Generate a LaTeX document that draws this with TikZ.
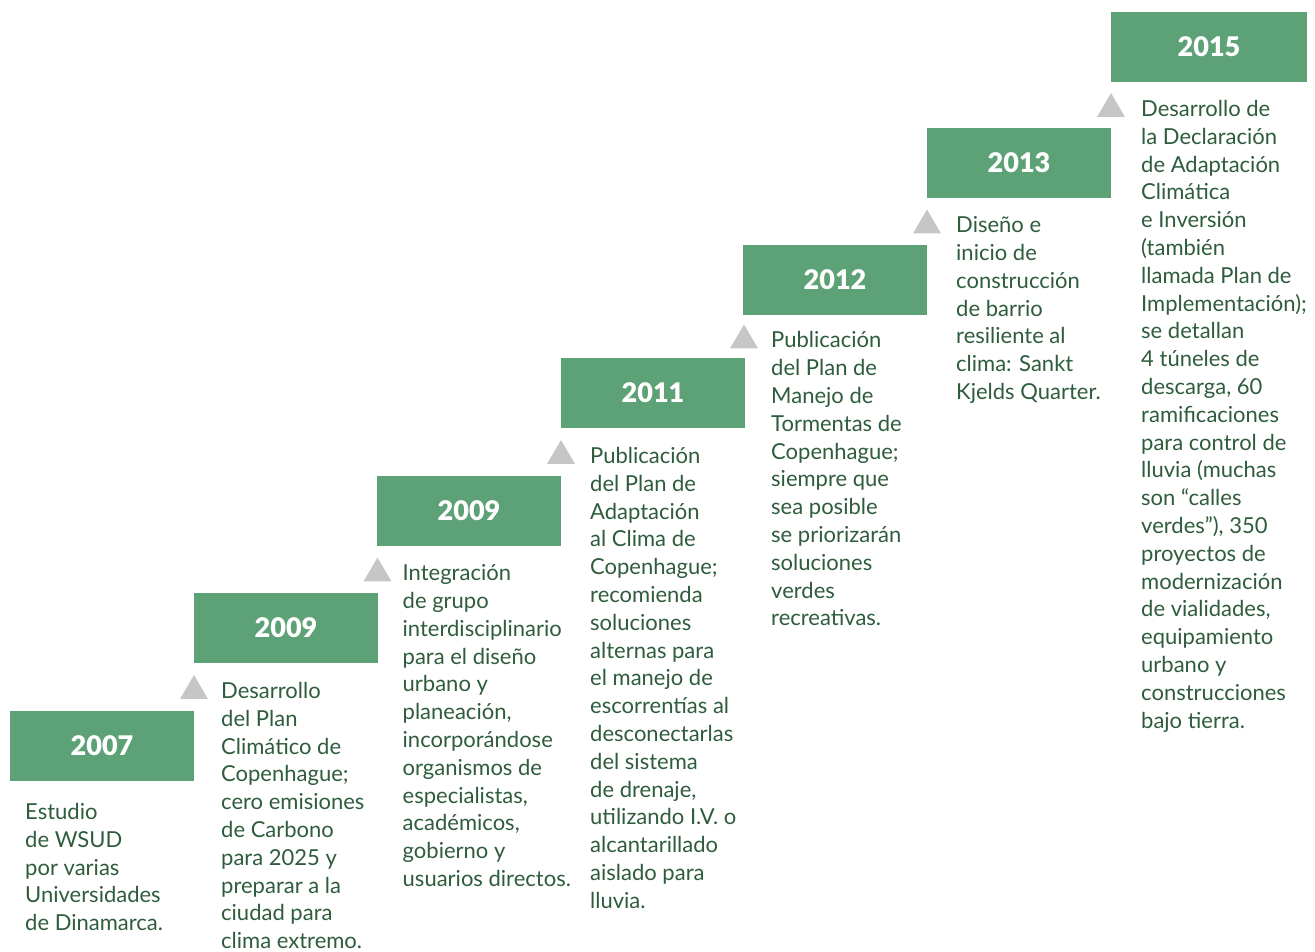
\documentclass[tikz,border=0pt]{standalone}
\usepackage{fontspec}
\setmainfont{Lato}
\newfontfamily\yearfont{Lato}[UprightFont=* Black]
\usepackage{xcolor}
\usetikzlibrary{calc,positioning}
\definecolor{stepgreen}{HTML}{5DA176}
\definecolor{notegreen}{HTML}{2E5C3C}
\definecolor{pointergray}{HTML}{C6C6C6}

\begin{document}
\begin{tikzpicture}[
  x=1pt, y=1pt,
  node distance=47pt and 0pt,
  yearbox/.style={fill=stepgreen, text=white, inner sep=0pt, outer sep=0pt,
              minimum width=184pt, minimum height=70pt,
              font=\fontsize{27}{30}\selectfont\yearfont},
  note/.style={anchor=north west, inner sep=0pt, align=left,
              text=notegreen, font=\fontsize{22}{27.8}\selectfont},
  pointer/.style={fill=pointergray}]
\useasboundingbox (0,0) rectangle (1315,951);
% steps
\node[yearbox, anchor=south west] (y2007) at (10,170) {2007};
\node[yearbox, above right=48pt and 0pt of y2007]   (y2009a) {2009};
\node[yearbox, above right=47pt and -1pt of y2009a] (y2009b) {2009};
\node[yearbox, above right=48pt and 0pt of y2009b]  (y2011)  {2011};
\node[yearbox, above right=43pt and -2pt of y2011]  (y2012)  {2012};
\node[yearbox, above right=47pt and 0pt of y2012]   (y2013)  {2013};
\node[yearbox, above right=46pt and 0pt of y2013, minimum width=196pt] (y2015) {2015};
% pointers between the steps
\foreach \lo/\hi [count=\i] in {y2007/y2009a, y2009a/y2009b, y2009b/y2011,
                                y2011/y2012, y2012/y2013, y2013/y2015} {
  \coordinate (m\i) at ($(\lo.north east)!.5!(\hi.south west)$);
  \fill[pointer] ($(m\i)+(-14,-12)$) -- ++(28,0) -- ++(-14,24) -- cycle;
}
% texts
\node[note] (n2007) at ($(y2007.south west)+(15,-22)$)
  {Estudio\\de WSUD\\por varias\\Universidades\\de Dinamarca.};
\node[note] (n2009a) at ($(m1)+(27,5)$)
  {Desarrollo\\del Plan\\Climático de\\Copenhague;\\cero emisiones\\de Carbono\\para 2025 y\\preparar a la\\ciudad para\\clima extremo.};
\node[note] (n2009b) at ($(m2)+(25,5)$)
  {Integración\\de grupo\\interdisciplinario\\para el diseño\\urbano y\\planeación,\\incorporándose\\organismos de\\especialistas,\\académicos,\\gobierno y\\usuarios directos.};
\node[note] (n2011) at ($(m3)+(29,5)$)
  {Publicación\\del Plan de\\Adaptación\\al Clima de\\Copenhague;\\recomienda\\soluciones\\alternas para\\el manejo de\\escorrentías al\\desconectarlas\\del sistema\\de drenaje,\\utilizando I.V. o\\alcantarillado\\aislado para\\lluvia.};
\node[note] (n2012) at ($(m4)+(27,5)$)
  {Publicación\\del Plan de\\Manejo de\\Tormentas de\\Copenhague;\\siempre que\\sea posible\\se priorizarán\\soluciones\\verdes\\recreativas.};
\node[note] (n2013) at ($(m5)+(29,5)$)
  {Diseño e\\inicio de\\construcción\\de barrio\\resiliente al\\clima: Sankt\\Kjelds Quarter.};
\node[note] (n2015) at ($(m6)+(30,5)$)
  {Desarrollo de\\la Declaración\\de Adaptación\\Climática\\e Inversión\\(también\\llamada Plan de\\Implementación);\\se detallan\\4 túneles de\\descarga, 60\\ramificaciones\\para control de\\lluvia (muchas\\son “calles\\verdes”), 350\\proyectos de\\modernización\\de vialidades,\\equipamiento\\urbano y\\construcciones\\bajo tierra.};
\end{tikzpicture}
\end{document}
